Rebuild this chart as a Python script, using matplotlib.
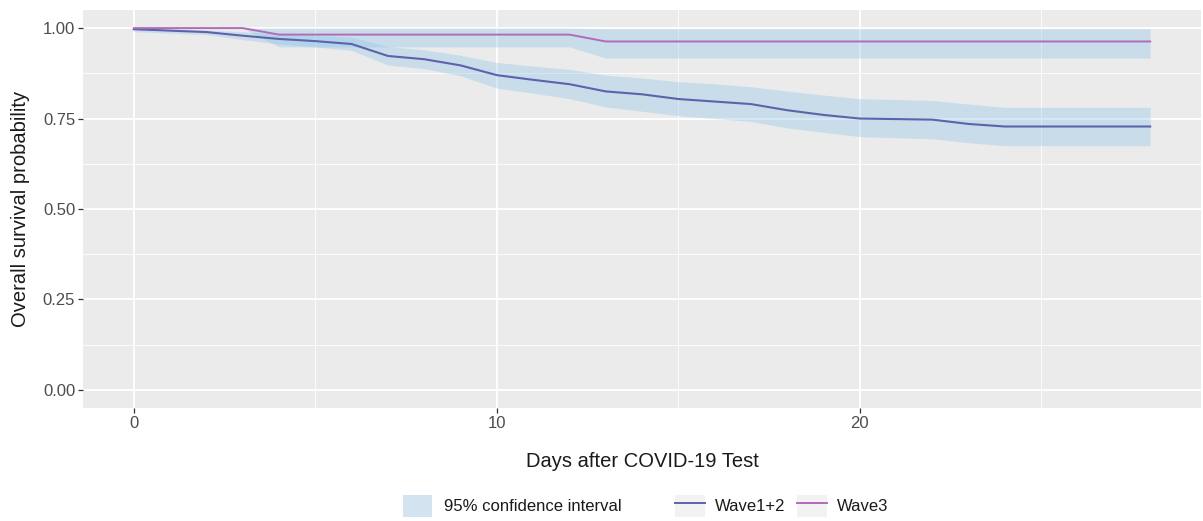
import matplotlib
matplotlib.use("Agg")
import matplotlib.pyplot as plt
from matplotlib.patches import Patch
from matplotlib.lines import Line2D

plt.rcParams['font.family'] = ['Liberation Sans', 'DejaVu Sans']

# ---- data ----
days1 = [0, 2, 3, 4, 5, 6, 7, 8, 9, 10, 11, 12, 13, 14, 15, 16, 17, 18, 19, 20, 22, 23, 24, 28]
surv1 = [0.997, 0.989, 0.979, 0.970, 0.964, 0.956, 0.923, 0.914, 0.897, 0.870, 0.857, 0.845,
         0.825, 0.817, 0.804, 0.797, 0.790, 0.773, 0.760, 0.750, 0.747, 0.735, 0.728, 0.728]
upper1 = [1.000, 0.995, 0.990, 0.984, 0.980, 0.975, 0.949, 0.940, 0.925, 0.905, 0.895, 0.886,
          0.870, 0.862, 0.852, 0.846, 0.838, 0.826, 0.815, 0.805, 0.800, 0.790, 0.781, 0.781]
lower1 = [0.990, 0.982, 0.968, 0.956, 0.948, 0.938, 0.898, 0.888, 0.868, 0.834, 0.820, 0.805,
          0.782, 0.770, 0.758, 0.750, 0.742, 0.724, 0.712, 0.700, 0.694, 0.683, 0.675, 0.675]

days3 = [0, 3, 4, 12, 13, 28]
surv3 = [1.000, 1.000, 0.982, 0.982, 0.963, 0.963]
upper3 = [1.000, 1.000, 1.000, 1.000, 0.998, 0.998]
lower3 = [1.000, 1.000, 0.948, 0.948, 0.917, 0.917]

x_ticks = [0, 10, 20]
y_ticks = [0.00, 0.25, 0.50, 0.75, 1.00]
y_ticklabels = ["0.00", "0.25", "0.50", "0.75", "1.00"]
series_labels = ["Wave1+2", "Wave3"]
ci_label = "95% confidence interval"

# ---- style ----
col1 = "#5d62ab"
col3 = "#b06cb6"
band_col = "#8ec4ea"
band_alpha = 0.36
panel_bg = "#ebebeb"

fig = plt.figure(figsize=(12.03, 5.21), dpi=100)
ax = fig.add_axes([83 / 1203, 1 - 408 / 521, (1201 - 83) / 1203, (408 - 10) / 521])
ax.set_facecolor(panel_bg)

ax.fill_between(days1, lower1, upper1, color=band_col, alpha=band_alpha, lw=0, zorder=2)
ax.fill_between(days3, lower3, upper3, color=band_col, alpha=band_alpha, lw=0, zorder=2)
ax.plot(days1, surv1, color=col1, lw=1.5, zorder=3)
ax.plot(days3, surv3, color=col3, lw=1.4, zorder=3)

ax.set_xlim(-1.4, 29.4)
ax.set_ylim(-0.05, 1.05)
ax.set_xticks(x_ticks)
ax.set_xticks([5, 15, 25], minor=True)
ax.set_yticks(y_ticks)
ax.set_yticklabels(y_ticklabels)
ax.set_yticks([0.125, 0.375, 0.625, 0.875], minor=True)
ax.grid(which='major', color='white', lw=1.3, zorder=1)
ax.grid(which='minor', color='white', lw=0.6, zorder=1)
ax.set_axisbelow(True)
for s in ax.spines.values():
    s.set_visible(False)
ax.tick_params(which='major', length=3.6, width=0.9, color='#333333',
               labelcolor='#4d4d4d', labelsize=12, pad=2)
ax.tick_params(which='minor', length=0)

ax.set_xlabel("Days after COVID-19 Test", fontsize=14.5, color='#1a1a1a', labelpad=15)
ax.set_ylabel("Overall survival probability", fontsize=14.5, color='#1a1a1a', labelpad=9)

# ---- legends ----
fs = 12
ci_handle = Patch(facecolor="#d4e3f0", edgecolor='none')
leg1 = fig.legend([ci_handle], [ci_label], loc='center left',
                  bbox_to_anchor=(403 / 1203, 15 / 521), frameon=False, fontsize=fs,
                  handlelength=1.75, handleheight=1.7, handletextpad=0.7,
                  borderpad=0, borderaxespad=0)
for t in leg1.get_texts():
    t.set_color('#1a1a1a')

key_bg = dict(facecolor='#f2f2f2', edgecolor='none')
h1 = (Patch(**key_bg), Line2D([], [], color=col1, lw=1.4))
h3 = (Patch(**key_bg), Line2D([], [], color=col3, lw=1.4))
leg2 = fig.legend([h1, h3], series_labels, loc='center left', ncol=2,
                  bbox_to_anchor=(675 / 1203, 15 / 521), frameon=False, fontsize=fs,
                  handlelength=1.8, handleheight=1.7, handletextpad=0.6,
                  columnspacing=0.7, borderpad=0, borderaxespad=0)
for t in leg2.get_texts():
    t.set_color('#1a1a1a')

fig.savefig("out.png", dpi=100)
